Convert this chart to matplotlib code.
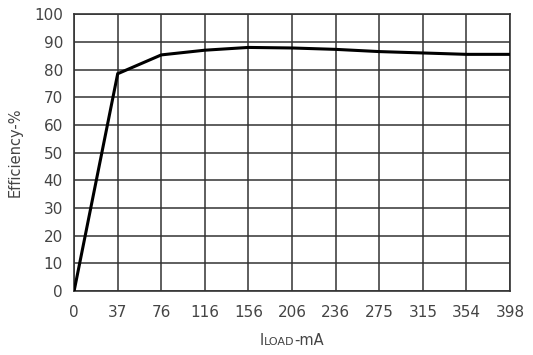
import matplotlib
matplotlib.use("Agg")
import matplotlib.pyplot as plt
from matplotlib.offsetbox import TextArea, HPacker, AnnotationBbox

x_labels = ["0", "37", "76", "116", "156", "206", "236", "275", "315", "354", "398"]
efficiency = [0, 78.5, 85.3, 87.0, 88.0, 87.8, 87.3, 86.5, 86.0, 85.5, 85.5]
y_ticks = list(range(0, 101, 10))

fig = plt.figure(figsize=(5.33, 3.55), dpi=100)
ax = fig.add_axes([0.139, 0.180, 0.818, 0.780])
xs = list(range(len(x_labels)))
ax.plot(xs, efficiency, color="black", lw=2.2, solid_joinstyle="miter", zorder=3)
ax.set_xlim(0, len(x_labels) - 1)
ax.set_ylim(0, 100)
ax.set_xticks(xs)
ax.set_xticklabels(x_labels)
ax.set_yticks(y_ticks)
ax.grid(True, color="#333333", lw=1.1)
ax.set_axisbelow(True)
ax.tick_params(length=0, labelsize=11, labelcolor="#444444")
ax.tick_params(axis="x", pad=10)
ax.tick_params(axis="y", pad=8)
for s in ax.spines.values():
    s.set_color("#333333")
    s.set_linewidth(1.2)
ax.set_ylabel("Efficiency-%", fontsize=10.5, color="#444444", labelpad=8)

parts = HPacker(children=[
    TextArea("I", textprops=dict(size=10.5, color="#444444")),
    TextArea("LOAD", textprops=dict(size=8, color="#444444")),
    TextArea("-mA", textprops=dict(size=10.5, color="#444444")),
], align="baseline", pad=0, sep=0)
ab = AnnotationBbox(parts, (0.5, -0.18), xycoords="axes fraction", frameon=False,
                    box_alignment=(0.5, 0.5))
ax.add_artist(ab)

fig.savefig("out.png", dpi=100)
